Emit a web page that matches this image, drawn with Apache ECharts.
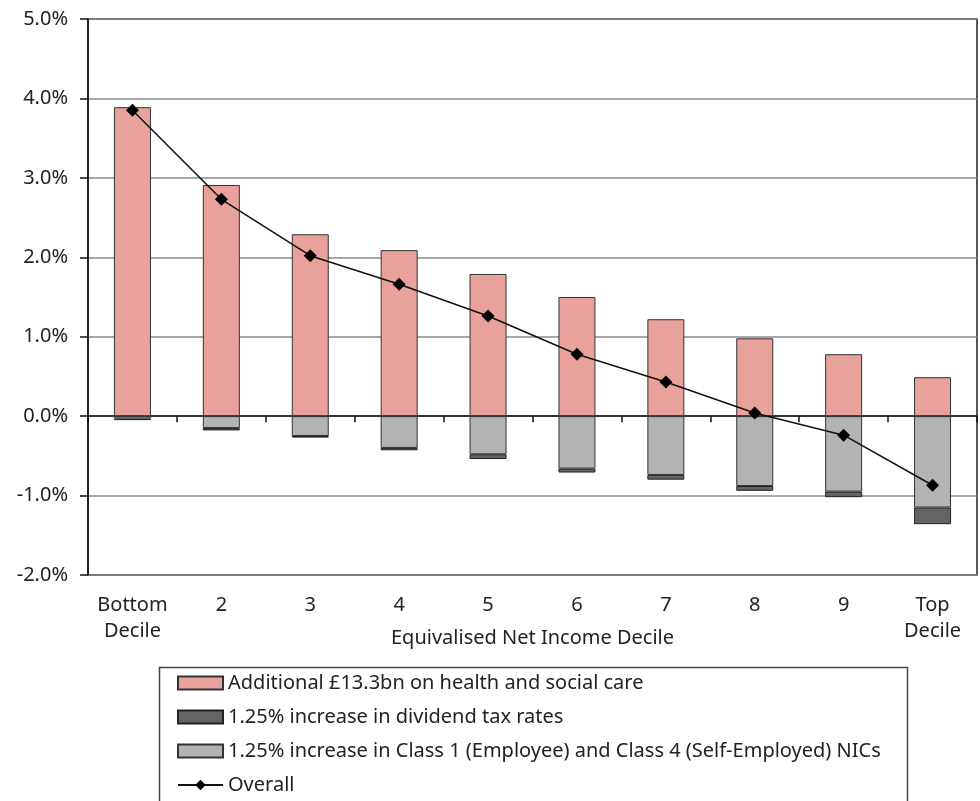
<!DOCTYPE html>
<html>
<head>
<meta charset="utf-8">
<script src="https://cdn.jsdelivr.net/npm/echarts@6/dist/echarts.min.js"></script>
<style>
  html, body { margin: 0; padding: 0; background: #fff; }
  #main { width: 980px; height: 801px; }
</style>
</head>
<body>
<div id="main"></div>
<script>
var deciles = ['Bottom\nDecile', '2', '3', '4', '5', '6', '7', '8', '9', 'Top\nDecile'];
// % of net income
var healthCare = [3.89, 2.91, 2.29, 2.09, 1.79, 1.50, 1.22, 0.98, 0.78, 0.49];
var nics = [-0.03, -0.15, -0.25, -0.40, -0.48, -0.66, -0.74, -0.88, -0.95, -1.15];
var dividendTax = [-0.02, -0.03, -0.02, -0.03, -0.06, -0.05, -0.06, -0.06, -0.07, -0.21];
var overall = [3.85, 2.73, 2.02, 1.66, 1.26, 0.78, 0.43, 0.04, -0.24, -0.87];
var yTicks = [-2, -1, 0, 1, 2, 3, 4, 5];

var names = [
    'Additional £13.3bn on health and social care',
    '1.25% increase in dividend tax rates',
    '1.25% increase in Class 1 (Employee) and Class 4 (Self-Employed) NICs',
    'Overall'
];

var font = 'Noto Sans';
var fs = 20;

var myChart = echarts.init(document.getElementById('main'));
var option = {
    animation: false,
    textStyle: { fontFamily: font },
    grid: {
        left: 88, right: 3, top: 19, bottom: 226,
        show: true, borderColor: '#222', borderWidth: 1.5
    },
    // legend frame (runs off the bottom like the original)
    graphic: [{
        type: 'rect',
        left: 157, top: 665,
        shape: { width: 748, height: 160 },
        style: { fill: 'none', stroke: '#444', lineWidth: 1.5 }
    }],
    legend: {
        orient: 'vertical',
        left: 177, top: 673,
        padding: 0,
        itemWidth: 45, itemHeight: 13, itemGap: 14,
        textStyle: { fontFamily: font, fontSize: fs, color: '#222' },
        data: [
            { name: names[0], icon: 'rect' },
            { name: names[1], icon: 'rect' },
            { name: names[2], icon: 'rect' },
            { name: names[3] }
        ]
    },
    xAxis: [{
        type: 'category',
        data: deciles,
        axisLine: { onZero: true, lineStyle: { color: '#111', width: 1.5 } },
        axisTick: { show: true, length: 6, lineStyle: { color: '#111', width: 1.5 } },
        axisLabel: { show: false }
    }, {
        type: 'category',
        data: deciles,
        position: 'bottom',
        axisLine: { show: false, onZero: false },
        axisTick: { show: false },
        axisLabel: { interval: 0, fontFamily: font, fontSize: fs, color: '#222', lineHeight: 26, margin: 17 },
        name: 'Equivalised Net Income Decile',
        nameLocation: 'middle',
        nameGap: 53,
        nameMoveOverlap: false,
        nameTextStyle: { fontFamily: font, fontSize: fs, color: '#222' }
    }],
    yAxis: {
        type: 'value',
        min: yTicks[0], max: yTicks[yTicks.length - 1], interval: 1,
        axisLine: { show: true, lineStyle: { color: '#111', width: 1.5 } },
        axisTick: { show: true, length: 8, lineStyle: { color: '#111', width: 1.5 } },
        axisLabel: {
            fontFamily: font, fontSize: fs, color: '#222', margin: 20,
            formatter: function (v) { return v.toFixed(1) + '%'; }
        },
        splitLine: { lineStyle: { color: '#8a8a8a', width: 1.5 } }
    },
    series: [{
        name: names[0],
        type: 'bar',
        stack: 'total',
        barWidth: 37,
        data: healthCare,
        itemStyle: { color: '#e8a19b', borderColor: '#333', borderWidth: 1 }
    }, {
        name: names[2],
        type: 'bar',
        stack: 'total',
        barWidth: 37,
        data: nics,
        itemStyle: { color: '#b3b3b3', borderColor: '#333', borderWidth: 1 }
    }, {
        name: names[1],
        type: 'bar',
        stack: 'total',
        barWidth: 37,
        data: dividendTax,
        itemStyle: { color: '#646464', borderColor: '#222', borderWidth: 1 }
    }, {
        name: names[3],
        type: 'line',
        data: overall,
        z: 5,
        symbol: 'diamond',
        symbolSize: 13,
        lineStyle: { color: '#111', width: 1.5 },
        itemStyle: { color: '#000' }
    }]
};
myChart.setOption(option);
</script>
</body>
</html>
